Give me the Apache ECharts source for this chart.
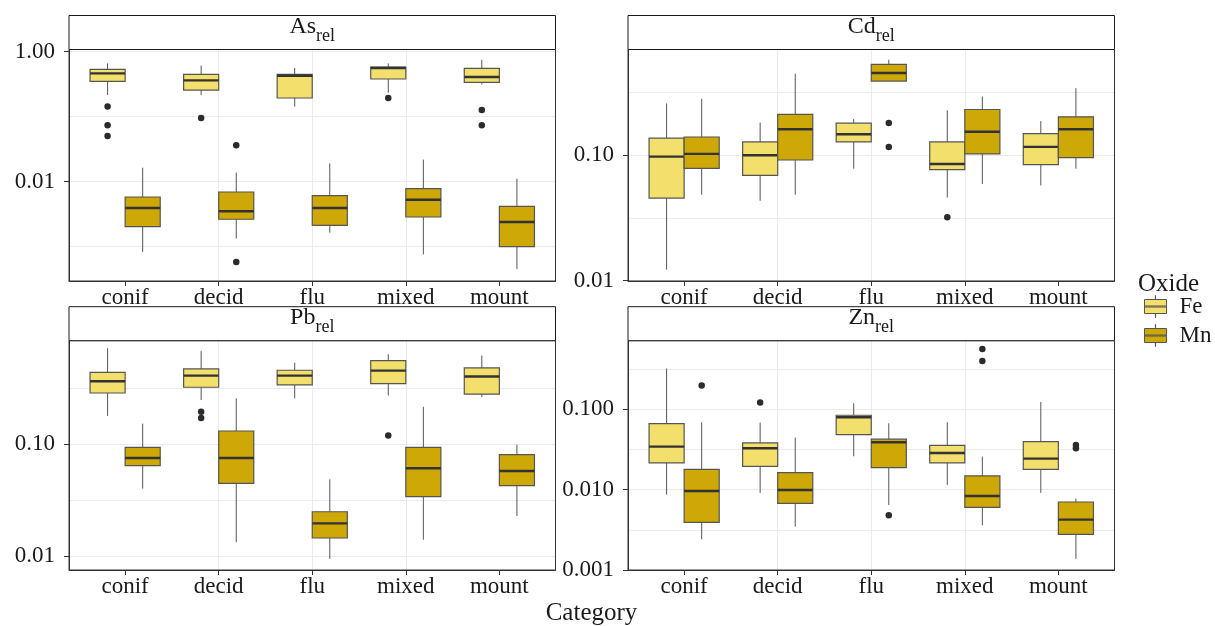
<!DOCTYPE html>
<html>
<head>
<meta charset="utf-8">
<script src="https://cdn.jsdelivr.net/npm/echarts@6/dist/echarts.min.js"></script>
<style>
    html, body { margin: 0; padding: 0; background: #fff; }
    #chart { width: 1215px; height: 626px; }
</style>
</head>
<body>
<div id="chart"></div>
<script>
    const categories = ['conif', 'decid', 'flu', 'mixed', 'mount'];

    // box stats per category: [lower whisker, Q1, median, Q3, upper whisker]
    const asFe = [[0.215, 0.35, 0.464, 0.535, 0.66], [0.215, 0.257, 0.362, 0.448, 0.609], [0.143, 0.194, 0.427, 0.448, 0.561], [0.234, 0.38, 0.561, 0.581, 0.66], [0.314, 0.337, 0.408, 0.554, 0.753]];
    const asMn = [[0.00083, 0.00203, 0.00394, 0.00581, 0.0164], [0.00133, 0.00264, 0.0035, 0.00693, 0.01375], [0.00164, 0.00213, 0.00394, 0.0061, 0.0191], [0.00076, 0.00286, 0.00528, 0.0078, 0.0218], [0.00045, 0.001, 0.00239, 0.00418, 0.0111]];
    const cdFe = [[0.01225, 0.0454, 0.097, 0.136, 0.257], [0.0432, 0.0689, 0.0994, 0.127, 0.181], [0.0778, 0.127, 0.146, 0.179, 0.193], [0.0459, 0.0764, 0.0848, 0.127, 0.226], [0.0573, 0.0837, 0.116, 0.148, 0.186]];
    const cdMn = [[0.0483, 0.0783, 0.102, 0.139, 0.28], [0.0483, 0.0912, 0.16, 0.21, 0.443], [0.387, 0.387, 0.449, 0.526, 0.573], [0.0587, 0.102, 0.153, 0.23, 0.292], [0.0778, 0.0952, 0.16, 0.201, 0.34]];
    const pbFe = [[0.1795, 0.288, 0.367, 0.441, 0.724], [0.249, 0.324, 0.412, 0.473, 0.686], [0.258, 0.34, 0.412, 0.46, 0.538], [0.273, 0.349, 0.457, 0.561, 0.64], [0.265, 0.281, 0.404, 0.483, 0.622]];
    const pbMn = [[0.0401, 0.0644, 0.0755, 0.094, 0.153], [0.0133, 0.0448, 0.0755, 0.1316, 0.258], [0.00946, 0.0145, 0.0196, 0.0249, 0.0486], [0.014, 0.034, 0.061, 0.094, 0.217], [0.0228, 0.0427, 0.0577, 0.0808, 0.0993]];
    const znFe = [[0.00867, 0.0215, 0.0343, 0.0664, 0.321], [0.0091, 0.0195, 0.0327, 0.0381, 0.0682], [0.026, 0.0484, 0.0795, 0.0842, 0.1188], [0.0114, 0.0215, 0.0286, 0.0356, 0.0689], [0.0091, 0.0179, 0.0243, 0.0396, 0.1233]];
    const znMn = [[0.00241, 0.00392, 0.00962, 0.0179, 0.0689], [0.00346, 0.00676, 0.0099, 0.0163, 0.0444], [0.00644, 0.0188, 0.0388, 0.0424, 0.067], [0.0036, 0.00602, 0.00834, 0.0148, 0.0258], [0.00138, 0.00278, 0.00424, 0.00702, 0.00773]];

    // outliers: [category index, value]
    const asFeOut = [[0, 0.144], [0, 0.0736], [0, 0.0504], [1, 0.0954], [3, 0.194], [4, 0.1267], [4, 0.0736]];
    const asMnOut = [[1, 0.0362], [1, 0.00058]];
    const cdFeOut = [[3, 0.032]];
    const cdMnOut = [[2, 0.18], [2, 0.116]];
    const pbFeOut = [[1, 0.196], [1, 0.172], [3, 0.1197]];
    const pbMnOut = [];
    const znFeOut = [[1, 0.121]];
    const znMnOut = [[0, 0.197], [2, 0.00479], [3, 0.564], [3, 0.4], [4, 0.036], [4, 0.0327]];

    // y axis limits and labelled ticks
    const asRange = [0.000296, 1.081];
    const cdRange = [0.00995, 0.69];
    const pbRange = [0.0075, 0.846];
    const znRange = [0.001, 0.713];
    const asTicks = [1, 0.01];
    const cdTicks = [0.1, 0.01];
    const pbTicks = [0.1, 0.01];
    const znTicks = [0.1, 0.01, 0.001];

    const FONT = 'Liberation Serif';
    const TEXT = '#1a1a1a';
    const FE_COLOR = '#F3DF6C';
    const MN_COLOR = '#CEA806';
    const DODGE = 0.1875;
    const BOX_W = 0.375;
    const PANEL_W = 486.5;

    const panels = [
        {title: 'As', fe: asFe, mn: asMn, feOut: asFeOut, mnOut: asMnOut, range: asRange, ticks: asTicks, digits: 2, gridBase: 10, left: 69, top: 49.5, height: 231.5},
        {title: 'Cd', fe: cdFe, mn: cdMn, feOut: cdFeOut, mnOut: cdMnOut, range: cdRange, ticks: cdTicks, digits: 2, gridBase: Math.sqrt(10), left: 628, top: 49.5, height: 231.5},
        {title: 'Pb', fe: pbFe, mn: pbMn, feOut: pbFeOut, mnOut: pbMnOut, range: pbRange, ticks: pbTicks, digits: 2, gridBase: Math.sqrt(10), left: 69, top: 340.7, height: 229.3},
        {title: 'Zn', fe: znFe, mn: znMn, feOut: znFeOut, mnOut: znMnOut, range: znRange, ticks: znTicks, digits: 3, gridBase: Math.sqrt(10), left: 628, top: 340.7, height: 229.3}
    ];

    function boxRenderer(color) {
        return function (params, api) {
            const x = api.value(0);
            const lo = api.coord([x, api.value(1)]);
            const q1 = api.coord([x, api.value(2)]);
            const med = api.coord([x, api.value(3)]);
            const q3 = api.coord([x, api.value(4)]);
            const hi = api.coord([x, api.value(5)]);
            const left = api.coord([x - BOX_W / 2, api.value(3)])[0];
            const right = api.coord([x + BOX_W / 2, api.value(3)])[0];
            return {
                type: 'group',
                children: [
                    {type: 'line', shape: {x1: lo[0], y1: lo[1], x2: q1[0], y2: q1[1]}, style: {stroke: '#555', lineWidth: 1}},
                    {type: 'line', shape: {x1: q3[0], y1: q3[1], x2: hi[0], y2: hi[1]}, style: {stroke: '#555', lineWidth: 1}},
                    {type: 'rect', shape: {x: left, y: q3[1], width: right - left, height: q1[1] - q3[1]}, style: {fill: color, stroke: '#555', lineWidth: 1.2}},
                    {type: 'line', shape: {x1: left, y1: med[1], x2: right, y2: med[1]}, style: {stroke: '#333', lineWidth: 2.4}}
                ]
            };
        };
    }

    const grid = [], xAxis = [], yAxis = [], series = [], graphic = [];
    const catValues = categories.map((c, i) => i + 1);

    panels.forEach(function (p, i) {
        grid.push({left: p.left, top: p.top, width: PANEL_W, height: p.height});
        xAxis.push({
            type: 'value', gridIndex: i, min: 0.4, max: 5.6,
            axisLine: {show: true, onZero: false, lineStyle: {color: '#333'}},
            axisTick: {show: true, customValues: catValues, length: 5, lineStyle: {color: '#333'}},
            axisLabel: {customValues: catValues, formatter: v => categories[Math.round(v) - 1], margin: 5, fontSize: 23, fontFamily: FONT, color: TEXT},
            splitLine: {show: true, showMinLine: false, showMaxLine: false, lineStyle: {color: '#ebebeb'}}
        });
        // log axis carrying the series and the grid lines
        yAxis.push({
            type: 'log', gridIndex: i, logBase: p.gridBase, min: p.range[0], max: p.range[1], position: 'right',
            axisLine: {show: false}, axisTick: {show: false}, axisLabel: {show: false},
            splitLine: {show: true, showMinLine: false, showMaxLine: false, lineStyle: {color: '#ebebeb'}}
        });
        // same range in log10 units, only for the labelled breaks
        const tickPos = p.ticks.map(t => Math.log10(t));
        yAxis.push({
            type: 'value', gridIndex: i, min: Math.log10(p.range[0]), max: Math.log10(p.range[1]), position: 'left',
            axisLine: {show: true, onZero: false, lineStyle: {color: '#333'}},
            axisTick: {show: true, customValues: tickPos, length: 5, lineStyle: {color: '#333'}},
            axisLabel: {customValues: tickPos, formatter: v => Math.pow(10, v).toFixed(p.digits), margin: 14, fontSize: 23, fontFamily: FONT, color: TEXT},
            splitLine: {show: false}
        });

        [['Fe', p.fe, p.feOut, -DODGE, FE_COLOR], ['Mn', p.mn, p.mnOut, DODGE, MN_COLOR]].forEach(function (s) {
            series.push({
                type: 'custom', name: s[0], xAxisIndex: i, yAxisIndex: 2 * i,
                itemStyle: {color: s[4]},
                encode: {x: 0, y: [1, 2, 3, 4, 5]},
                data: s[1].map((d, c) => [c + 1 + s[3]].concat(d)),
                renderItem: boxRenderer(s[4]),
                z: 3
            });
            series.push({
                type: 'scatter', name: s[0] + ' outliers', xAxisIndex: i, yAxisIndex: 2 * i,
                symbolSize: 6.5, itemStyle: {color: '#2b2b2b', opacity: 1},
                data: s[2].map(o => [o[0] + 1 + s[3], o[1]]),
                z: 4
            });
        });

        graphic.push({type: 'rect', z: 100, shape: {x: p.left, y: p.top, width: PANEL_W, height: p.height}, style: {fill: 'none', stroke: '#333', lineWidth: 1}});
        graphic.push({type: 'rect', z: 100, shape: {x: p.left, y: p.top - 34, width: PANEL_W, height: 34}, style: {fill: '#fff', stroke: '#1a1a1a', lineWidth: 1}});
        graphic.push({
            type: 'text', z: 101, x: p.left + PANEL_W / 2, y: p.top - 17,
            style: {
                text: '{m|' + p.title + '}{s|rel}',
                align: 'center', verticalAlign: 'middle', fill: TEXT,
                rich: {
                    m: {fontSize: 24, fontFamily: FONT, lineHeight: 26, padding: [0, 0, 7, 0], verticalAlign: 'bottom', fill: TEXT},
                    s: {fontSize: 18, fontFamily: FONT, lineHeight: 18, verticalAlign: 'bottom', fill: TEXT}
                }
            }
        });
    });

    graphic.push({type: 'text', z: 101, x: 1138, y: 284, style: {text: 'Oxide', fontSize: 25, fontFamily: FONT, fill: TEXT, verticalAlign: 'middle'}});
    graphic.push({type: 'text', z: 101, x: 591.5, y: 613, style: {text: 'Category', fontSize: 25, fontFamily: FONT, fill: TEXT, align: 'center', verticalAlign: 'middle'}});

    const chart = echarts.init(document.getElementById('chart'));
    chart.setOption({
        animation: false,
        backgroundColor: '#fff',
        grid: grid,
        xAxis: xAxis,
        yAxis: yAxis,
        legend: {
            data: ['Fe', 'Mn'], orient: 'vertical', left: 1144, top: 295, padding: 0,
            itemWidth: 22, itemHeight: 22, itemGap: 6, selectedMode: false,
            icon: 'path://M10.9 0h0.2v4h-0.2z M0 4h22v14h-22z M0 10.5h22v1h-22z M10.9 18h0.2v4h-0.2z',
            itemStyle: {borderColor: '#555', borderWidth: 1},
            textStyle: {fontSize: 23, fontFamily: FONT, color: TEXT, padding: [0, 0, 0, 8]}
        },
        graphic: graphic,
        series: series
    });
</script>
</body>
</html>
